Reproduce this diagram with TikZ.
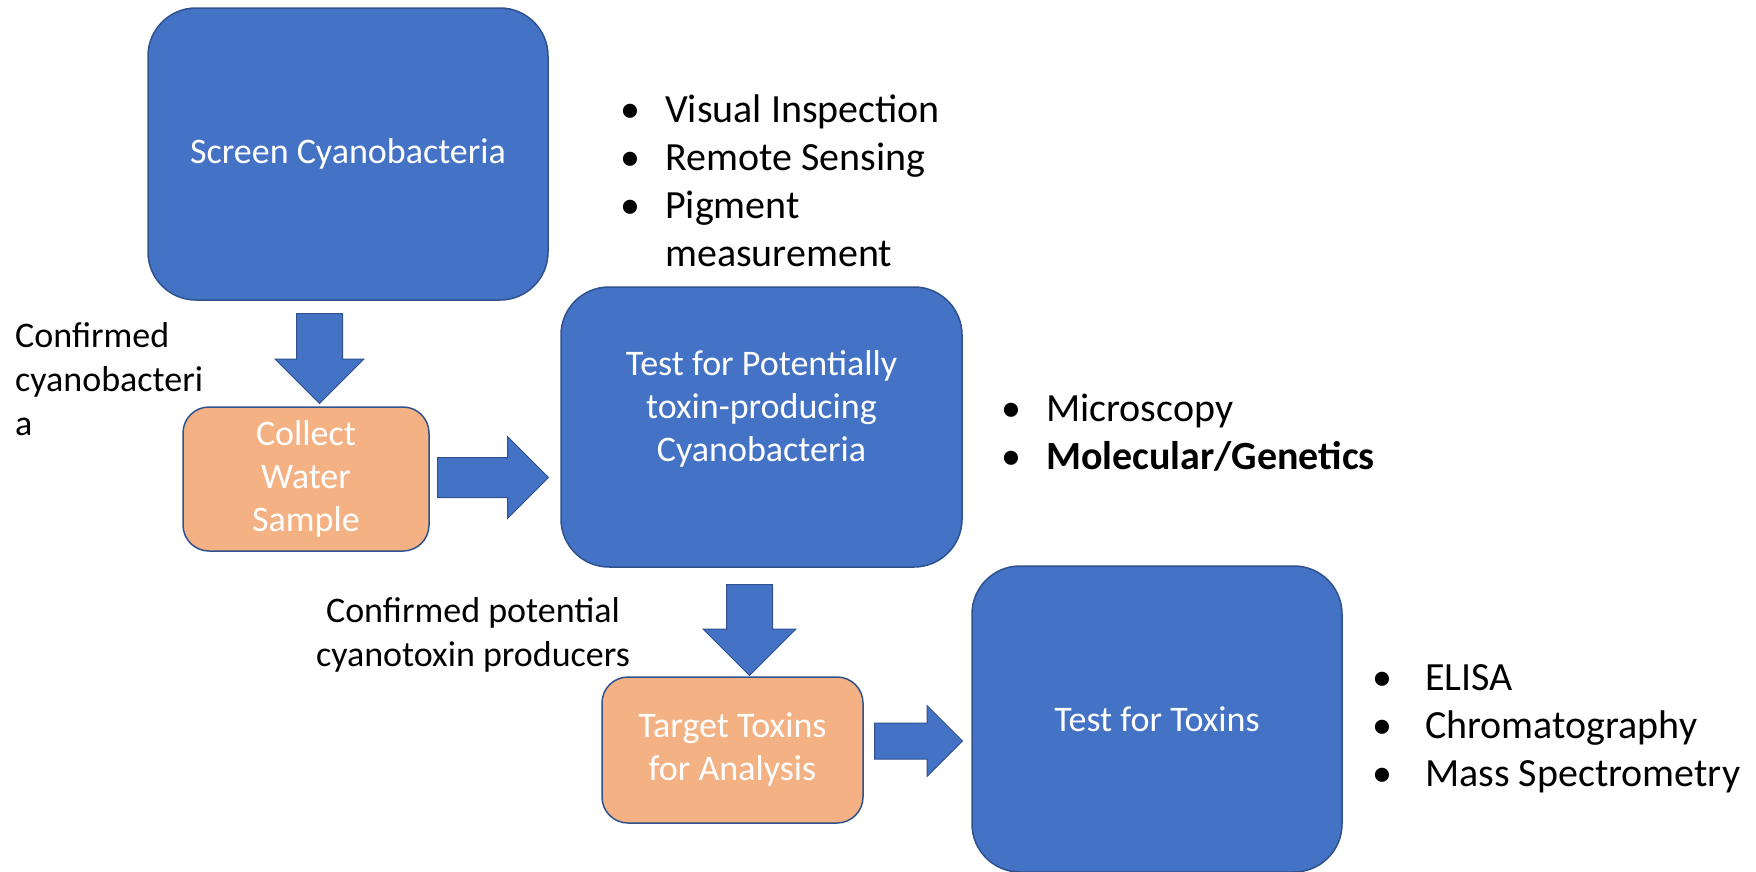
\documentclass[tikz,border=0pt]{standalone}
\usepackage{fontspec}
\setmainfont{Carlito}
\usetikzlibrary{shapes.arrows}

\definecolor{boxblue}{HTML}{4472C4}
\definecolor{edgeblue}{HTML}{2F528F}
\definecolor{boxorange}{HTML}{F4B183}

\newcommand{\boxfont}{\fontsize{36}{43}\selectfont}
\newcommand{\notefont}{\fontsize{36}{44}\selectfont}
\newcommand{\listfont}{\fontsize{40}{48}\selectfont}
\newcommand{\itm}[1]{\makebox[#1]{\textbullet}}

\tikzset{
  bluebox/.style={draw=edgeblue, fill=boxblue, line width=1.5pt, rounded corners=48pt,
    text=white, align=center, font=\boxfont, inner sep=0pt},
  orangebox/.style={bluebox, fill=boxorange, rounded corners=26pt},
  flowarrow/.style={single arrow, draw=edgeblue, fill=boxblue, line width=1pt,
    inner xsep=0pt, minimum width=0pt, anchor=tail},
  note/.style={font=\notefont, inner sep=0pt},
  bulletlist/.style={font=\listfont, inner sep=0pt, anchor=base west}
}

\begin{document}
\begin{tikzpicture}[x=1pt, y=-1pt]
            \useasboundingbox (0,0) rectangle (1756,871);

            % Boxes
            \node[bluebox, minimum width=400pt, minimum height=292pt] (screen) at (348,154) {Screen Cyanobacteria};
            \node[orangebox, minimum width=246pt, minimum height=144pt] (collect) at (306,479) {Collect\\Water\\Sample};
            \node[bluebox, minimum width=401pt, minimum height=280pt] (potential) at (761.5,427) {Test for Potentially\\toxin-producing\\Cyanobacteria\\\mbox{}};
            \node[orangebox, minimum width=261pt, minimum height=146pt] (target) at (732.5,750) {Target Toxins\\for Analysis};
            \node[bluebox, minimum width=370pt, minimum height=306pt] (toxins) at (1157,719) {Test for Toxins};

            % Block arrows (placed by their tails)
            \node[flowarrow, rotate=-90, minimum height=90pt, inner ysep=22.5pt, single arrow head extend=21.5pt] (arrA) at (319.5,313) {};
            \node[flowarrow, minimum height=111pt, inner ysep=19.5pt, single arrow head extend=21pt] (arrB) at (437,477.5) {};
            \node[flowarrow, rotate=-90, minimum height=91pt, inner ysep=22.5pt, single arrow head extend=23.5pt] (arrC) at (749.5,584) {};
            \node[flowarrow, minimum height=88pt, inner ysep=17.5pt, single arrow head extend=17.5pt] (arrD) at (874,741) {};

            % Labels
            \node[note, anchor=base west] (lblA) at (15,347) {\begin{tabular}[t]{@{}l@{}}Confirmed\\cyanobacteri\\a\end{tabular}};
            \node[note, anchor=base] (lblB) at (473,622) {\begin{tabular}[t]{@{}c@{}}Confirmed potential\\cyanotoxin producers\end{tabular}};

            % Method lists
            \node[bulletlist] (screenlist) at (595,122) {\begin{tabular}[t]{@{}l@{}l@{}}\itm{70pt}&Visual Inspection\\\itm{70pt}&Remote Sensing\\\itm{70pt}&Pigment\\&measurement\end{tabular}};
            \node[bulletlist] (celllist) at (976,421) {\begin{tabular}[t]{@{}l@{}l@{}}\itm{70pt}&Microscopy\\\itm{70pt}&\textbf{Molecular/Genetics}\end{tabular}};
            \node[bulletlist] (toxinlist) at (1339,690) {\begin{tabular}[t]{@{}l@{}l@{}}\itm{86pt}&ELISA\\\itm{86pt}&Chromatography\\\itm{86pt}&Mass Spectrometry\end{tabular}};
          \end{tikzpicture}
\end{document}
